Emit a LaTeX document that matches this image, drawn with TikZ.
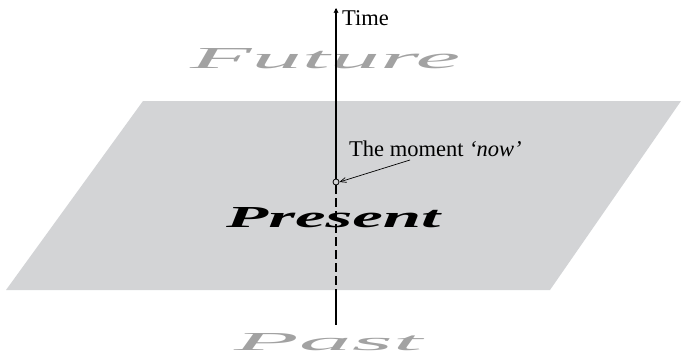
\documentclass[tikz,border=0pt]{standalone}
\usepackage{fontspec}
\setmainfont{Liberation Serif}
\usetikzlibrary{arrows.meta}
\definecolor{planegray}{HTML}{D3D4D6}
\definecolor{wordgray}{HTML}{A2A2A2}
\tikzset{
  timeline/.style={line width=1.3pt, black},
  label/.style={inner sep=0pt, font=\fontsize{22.5}{26}\selectfont},
  bigword/.style={inner sep=0pt, anchor=base west},
}
\begin{document}
\begin{tikzpicture}[x=1pt,y=-1pt]
\useasboundingbox (0,0) rectangle (681,356);
% plane
\fill[planegray] (143,101) -- (681,101) -- (550,290) -- (6,290) -- cycle;
% words
\node[bigword, text=wordgray] (future) at (190,68) {\resizebox{270pt}{20pt}{\itshape Future}};
\node[bigword, text=black] (present) at (226,227) {\resizebox{214pt}{20pt}{\bfseries\itshape Present}};
\node[bigword, text=wordgray] (past) at (234,350) {\resizebox{188pt}{17pt}{\itshape Past}};
% time axis
\coordinate (top) at (336,8);
\coordinate (planebottom) at (336,290);
\coordinate (bottom) at (336,325);
\node[circle, draw, line width=0.8pt, minimum size=6pt, inner sep=0pt] (now) at (336,182) {};
\draw[timeline, -{Straight Barb[length=4pt,width=4pt,line width=0.8pt]}] (now.north) -- (top);
\draw[timeline, dash pattern=on 9pt off 4pt] (now.south) -- (planebottom);
\draw[timeline] (planebottom) -- (bottom);
% labels
\node[label, anchor=base west] (time) at (342,25) {Time};
\node[label, anchor=base west] (nowlabel) at (349,156) {The moment \textit{`now'}};
\draw[line width=0.7pt, -{Straight Barb[length=6pt,width=5pt]}] (410,160) -- (now.east);
\end{tikzpicture}
\end{document}
